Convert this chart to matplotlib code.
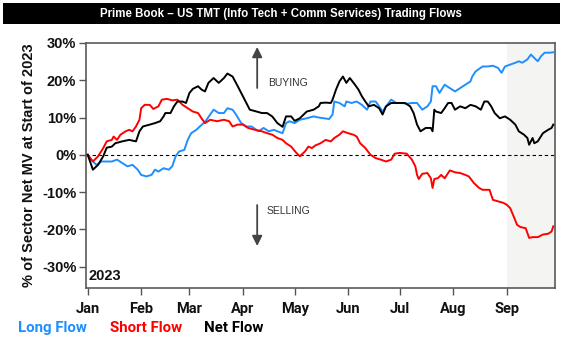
import matplotlib
matplotlib.use("Agg")
import matplotlib.pyplot as plt
import matplotlib.dates as mdates
from matplotlib.patches import Rectangle
import pandas as pd

# ---------------- data (days since 2023-01-01, % of sector net MV) ----------------
net_day = [0, 3, 6, 9, 11, 14, 16, 20, 24, 28, 30, 32, 36, 39, 42, 44, 45, 48, 50, 52,
           55, 57, 59, 61, 64, 66, 68, 70, 73, 76, 79, 81, 84, 87, 90, 94, 98, 101, 104,
           107, 110, 113, 115, 118, 120, 123, 127, 131, 134, 135, 138, 141, 142, 144, 146,
           148, 150, 152, 155, 157, 159, 161, 163, 166, 169, 171, 173, 176, 180, 184, 187,
           189, 191, 193, 196, 199, 200, 201, 202, 205, 207, 209, 211, 213, 216, 219, 222,
           225, 228, 230, 232, 234, 236, 239, 242, 245, 248, 250, 253, 255, 256, 258, 259,
           261, 264, 267, 269, 270]
net_val = [0, -4.0, -2.7, -0.4, 1.9, 2.2, 3.1, 3.6, 4.0, 3.6, 6.3, 7.6, 8.1, 8.5, 9.0, 10.3,
           11.2, 11.2, 13.0, 14.3, 14.3, 13.9, 16.6, 17.7, 18.4, 17.5, 17.0, 19.3, 20.6, 19.3,
           20.6, 21.8, 21.0, 18.4, 15.7, 12.1, 11.6, 11.2, 11.2, 10.3, 8.5, 7.5, 10.3, 10.3,
           9.1, 9.8, 11.6, 12.1, 13.0, 13.9, 14.0, 13.9, 14.8, 17.5, 19.7, 21.0, 19.3, 20.6,
           18.8, 17.5, 15.7, 14.3, 13.0, 13.4, 12.5, 10.8, 13.0, 13.9, 13.9, 13.9, 13.0, 11.2,
           8.1, 6.3, 7.2, 7.2, 6.3, 12.1, 11.6, 11.2, 12.5, 13.9, 13.9, 12.1, 13.0, 12.5, 13.4,
           13.0, 12.1, 14.3, 14.3, 13.0, 11.2, 9.8, 10.3, 9.4, 8.1, 6.3, 5.4, 4.5, 2.7, 4.5,
           3.1, 3.6, 5.8, 6.7, 7.2, 8.1]

long_day = [0, 2, 5, 8, 11, 14, 17, 20, 23, 26, 29, 31, 34, 37, 39, 41, 44, 47, 49, 51, 53,
            56, 58, 60, 63, 65, 68, 71, 73, 76, 79, 81, 84, 86, 89, 92, 95, 99, 102, 105, 108,
            110, 113, 115, 117, 120, 123, 127, 131, 134, 137, 140, 142, 143, 146, 149, 150,
            153, 156, 159, 162, 164, 167, 169, 171, 173, 176, 179, 182, 185, 188, 191, 194,
            197, 199, 200, 202, 204, 207, 210, 213, 216, 219, 222, 223, 225, 229, 232, 235,
            238, 240, 242, 245, 248, 250, 252, 255, 257, 259, 261, 263, 265, 268, 270]
long_val = [0, -1.3, -2.7, -1.8, -1.8, -1.8, -1.3, -2.2, -3.1, -2.7, -4.0, -5.4, -5.8, -5.4,
            -4.0, -4.5, -3.6, -4.0, -3.1, -0.4, 0.9, 1.3, 4.0, 5.8, 6.7, 7.6, 8.8, 10.8, 12.1,
            11.2, 11.2, 12.5, 12.1, 10.8, 8.5, 7.6, 7.6, 6.3, 7.2, 6.3, 6.7, 6.3, 5.8, 8.5, 9.0,
            8.5, 9.4, 9.8, 10.3, 10.0, 9.8, 9.6, 10.8, 14.3, 13.9, 13.0, 14.3, 13.9, 14.3, 13.4,
            12.1, 14.3, 14.3, 13.0, 11.6, 13.0, 14.8, 13.9, 13.9, 13.7, 13.9, 13.9, 12.1, 13.0,
            14.3, 18.4, 18.4, 16.6, 18.8, 17.9, 17.0, 17.9, 18.8, 19.7, 21.0, 22.4, 23.7, 23.7,
            23.9, 23.3, 22.0, 23.7, 24.2, 24.7, 25.1, 24.7, 25.6, 26.9, 26.0, 25.1, 26.5, 27.4,
            27.4, 27.5]

short_day = [0, 3, 6, 9, 11, 14, 15, 17, 19, 22, 24, 26, 28, 30, 31, 33, 36, 38, 41, 43, 46,
             49, 52, 55, 58, 61, 64, 66, 68, 71, 75, 79, 82, 84, 87, 90, 93, 97, 101, 104, 107,
             110, 113, 115, 118, 121, 123, 126, 128, 130, 132, 135, 138, 141, 143, 146, 148,
             151, 154, 156, 158, 161, 164, 167, 170, 173, 176, 178, 181, 185, 188, 190, 191,
             192, 194, 197, 199, 200, 201, 203, 205, 207, 210, 213, 216, 219, 221, 224, 227,
             229, 233, 235, 238, 241, 243, 245, 247, 249, 251, 254, 256, 258, 261, 264, 267,
             269, 270]
short_val = [0, -1.8, -0.4, 1.8, 3.6, 4.0, 4.9, 4.0, 5.4, 6.3, 6.7, 6.3, 7.6, 9.4, 12.5, 13.4,
             13.4, 12.3, 13.0, 14.8, 15.0, 14.6, 14.8, 13.4, 12.5, 11.6, 11.2, 9.8, 8.5, 9.4,
             9.0, 9.4, 9.0, 7.6, 8.1, 8.1, 7.2, 6.7, 6.3, 5.8, 5.4, 4.5, 4.0, 3.1, 2.2, 0.5,
             -0.4, 0.9, 2.2, 1.8, 2.5, 3.1, 4.0, 3.6, 4.5, 5.4, 6.3, 5.8, 5.4, 4.9, 3.1, 1.8,
             0.0, -0.9, -1.3, -1.8, -1.3, 0.3, 0.5, 0.3, -1.3, -3.1, -5.4, -6.5, -5.1, -4.9,
             -6.3, -8.9, -6.5, -6.3, -5.4, -6.3, -4.2, -4.7, -4.9, -5.4, -5.8, -7.6, -8.9, -9.4,
             -9.4, -12.1, -12.5, -12.9, -13.4, -14.3, -16.5, -18.8, -19.4, -19.7, -22.3, -22.1,
             -22.1, -21.4, -21.2, -20.6, -19.2]

y_ticks = [-30, -20, -10, 0, 10, 20, 30]
month_ticks = ["2023-01-01", "2023-02-01", "2023-03-01", "2023-04-01", "2023-05-01",
               "2023-06-01", "2023-07-01", "2023-08-01", "2023-09-01"]
month_labels = ["Jan", "Feb", "Mar", "Apr", "May", "Jun", "Jul", "Aug", "Sep"]
shade_start = "2023-09-01"
series_names = ["Long Flow", "Short Flow", "Net Flow"]

base = pd.Timestamp("2023-01-01")
def to_dates(days):
    return base + pd.to_timedelta(days, unit="D")

BLUE = "#1f8fff"
RED = "#ff0000"
BLACK = "#000000"

fig = plt.figure(figsize=(5.65, 3.42), dpi=100)
ax = fig.add_axes([86/565, 1-288/342, (555-86)/565, (288-43)/342])

xmin = pd.Timestamp("2022-12-31")
xmax = pd.Timestamp("2023-09-29")
ax.axvspan(pd.Timestamp(shade_start), xmax, color="#f4f5f3", zorder=0, lw=0)
ax.axhline(0, color="black", ls=(0, (3, 2.5)), lw=0.8, zorder=1)

lw = 1.4
ax.plot(to_dates(long_day), long_val, color=BLUE, lw=lw, zorder=3)
ax.plot(to_dates(short_day), short_val, color=RED, lw=lw, zorder=3)
ax.plot(to_dates(net_day), net_val, color=BLACK, lw=lw, zorder=4)

ax.set_xlim(xmin, xmax)
ax.set_ylim(-35.75, 30)
ax.set_yticks(y_ticks)
ax.set_yticklabels([f"{v}%" for v in y_ticks], fontfamily="Liberation Sans",
                   fontweight="bold", fontsize=10.5, color="#111111")
ax.set_xticks(pd.to_datetime(month_ticks))
ax.set_xticklabels(month_labels, fontfamily="Roboto", fontweight="bold",
                   fontsize=10.5, color="#111111")
ax.tick_params(axis="both", direction="out", length=5, width=1, color="#555555")
ax.tick_params(axis="x", pad=5)
ax.tick_params(axis="y", pad=2)
for s in ax.spines.values():
    s.set_color("#5a5a5a")
    s.set_linewidth(1.2)

ax.set_ylabel("% of Sector Net MV at Start of 2023", fontfamily="Liberation Sans",
              fontweight="bold", fontsize=10.5, color="#111111", labelpad=4)

ax.text(0.005, 0.02, "2023", transform=ax.transAxes, fontfamily="Liberation Sans",
        fontweight="bold", fontsize=10.5, ha="left", va="bottom", color="#111111")

# BUYING / SELLING arrows
ax.annotate("", xy=(0.365, 0.995), xytext=(0.365, 0.805), xycoords="axes fraction",
            arrowprops=dict(arrowstyle="-|>,head_length=0.6,head_width=0.3",
                            color="#444444", lw=1.3))
ax.text(0.388, 0.835, "BUYING", transform=ax.transAxes, fontfamily="Liberation Sans",
        fontsize=7.5, color="#333333", ha="left", va="center")
ax.annotate("", xy=(0.365, 0.16), xytext=(0.365, 0.35), xycoords="axes fraction",
            arrowprops=dict(arrowstyle="-|>,head_length=0.6,head_width=0.3",
                            color="#444444", lw=1.3))
ax.text(0.386, 0.315, "SELLING", transform=ax.transAxes, fontfamily="Liberation Sans",
        fontsize=7.5, color="#333333", ha="left", va="center")

# Title bar
fig.patches.append(Rectangle((3/565, 1-24/342), 557/565, 21/342, transform=fig.transFigure,
                             facecolor="black", edgecolor="none", zorder=0))
fig.text(0.497, 1-13.5/342, "Prime Book \u2013 US TMT (Info Tech + Comm Services) Trading Flows",
         color="white", fontfamily="Liberation Sans", fontweight="bold", fontsize=8.3,
         ha="center", va="center")

# Legend as coloured text
leg_x = [18, 110, 204]
for name, col, xp in zip(series_names, [BLUE, RED, BLACK], leg_x):
    fig.text(xp/565, 1-328/342, name, color=col, fontfamily="Roboto", fontweight="bold",
             fontsize=10.8, ha="left", va="center")

fig.savefig("out.png", dpi=100)
